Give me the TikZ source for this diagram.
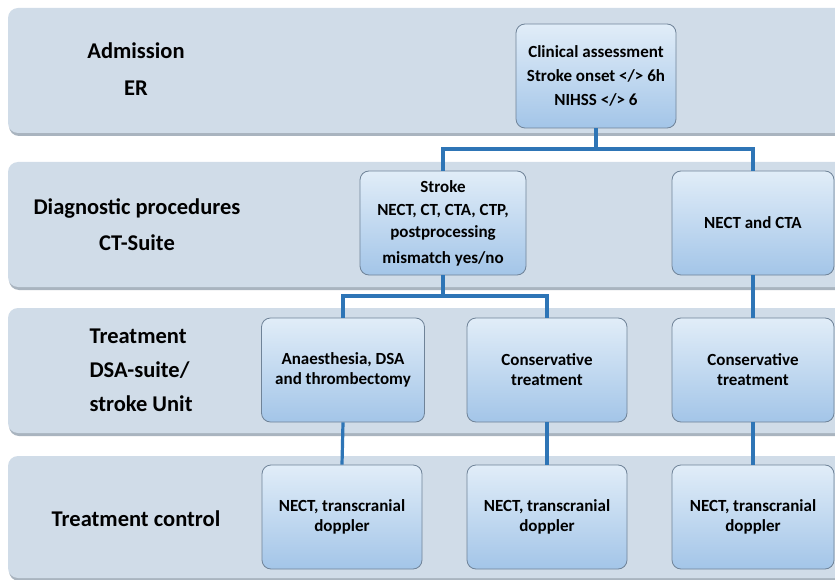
\documentclass[tikz,border=0pt]{standalone}
\usepackage{fontspec}
\setmainfont{Carlito}
\definecolor{band}{HTML}{D0DCE8}
\definecolor{bandshadow}{HTML}{A9B4BF}
\definecolor{linec}{HTML}{2E75B6}
\definecolor{ntop}{HTML}{E1EDF8}
\definecolor{nbot}{HTML}{A3C5E8}
\definecolor{nedge}{HTML}{6F8398}
\begin{document}
\begin{tikzpicture}[x=1pt,y=-1pt,
  bandbox/.style={fill=band, rounded corners=10pt, draw=none},
  bandsh/.style={fill=bandshadow, rounded corners=10pt, draw=none},
  box/.style={draw=nedge, line width=0.8pt, rounded corners=9pt, top color=ntop, bottom color=nbot,
    minimum width=160pt, minimum height=104pt, align=center,
    font=\fontsize{17}{24}\selectfont\bfseries, inner sep=2pt},
  lab/.style={align=center, font=\fontsize{22.5}{36}\selectfont\bfseries},
  conn/.style={draw=linec, line width=3.2pt}]
\useasboundingbox (0,0) rectangle (835,580);
\clip (0,0) rectangle (835,580);
\fill[white] (0,0) rectangle (835,580);
% bands
\foreach \t/\b in {8/133, 162/287, 308/433, 456/578}{
  \path[bandsh] (9,\t+3) rectangle (880,\b+3);
  \path[bandbox] (8,\t) rectangle (880,\b);
}
% labels
\node[lab, font=\fontsize{22.5}{37}\selectfont\bfseries] (l1) at (136,69) {Admission\\ER};
\node[lab] (l2) at (137,225) {Diagnostic procedures\\CT-Suite};
\node[lab, align=left, anchor=west, font=\fontsize{22.5}{34}\selectfont\bfseries] (l3) at (86,370) {Treatment\\DSA-suite/\\stroke Unit};
\node[lab] (l4) at (136,519) {Treatment control};
% nodes
\node[box] (clin) at (596,76) {Clinical assessment\\Stroke onset </> 6h\\NIHSS </> 6};
\node[box, minimum width=166pt] (stroke) at (443,223) {Stroke\\[-1pt]NECT, CT, CTA, CTP,\\[-2pt]postprocessing\\[2pt]mismatch yes/no};
\node[box, minimum width=162pt] (cta) at (753,223) {NECT and CTA};
\node[box, minimum width=163pt] (anaes) at (343,370) {Anaesthesia, DSA\\[-4pt]and thrombectomy};
\node[box] (cons1) at (547,370) {Conservative\\[-4pt]treatment};
\node[box, minimum width=162pt] (cons2) at (753,370) {Conservative\\[-4pt]treatment};
\node[box] (tc1) at (342,517) {NECT, transcranial\\[-4pt]doppler};
\node[box] (tc2) at (547,517) {NECT, transcranial\\[-4pt]doppler};
\node[box, minimum width=162pt] (tc3) at (753,517) {NECT, transcranial\\[-4pt]doppler};
% connectors
\coordinate (j1) at (596,149);
\coordinate (j2) at (443,296);
\draw[conn] (clin.south) -- (j1);
\draw[conn] (j1) -| (stroke.north);
\draw[conn] (j1) -| (cta.north);
\draw[conn] (stroke.south) -- (j2);
\draw[conn] (j2) -| (anaes.north);
\draw[conn] (j2) -| (cons1.north);
\draw[conn] (cta.south) -- (cons2.north);
\draw[conn] (anaes.south) -- (tc1.north);
\draw[conn] (cons1.south) -- (tc2.north);
\draw[conn] (cons2.south) -- (tc3.north);
\end{tikzpicture}
\end{document}
